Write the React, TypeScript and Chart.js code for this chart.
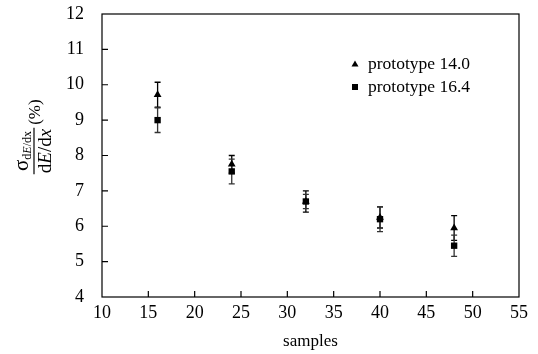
import React, { useEffect, useRef } from "react";
import { Chart, registerables } from "chart.js";

Chart.register(...registerables);

const samples = [16, 24, 32, 40, 48];
const proto140 = [9.72, 7.75, 6.7, 6.25, 5.95];
const proto140Err = [0.35, 0.25, 0.3, 0.3, 0.35];
const proto164 = [9.0, 7.55, 6.7, 6.2, 5.45];
const proto164Err = [0.35, 0.35, 0.2, 0.35, 0.3];
const seriesLabels = ["prototype 14.0", "prototype 16.4"];
const xTicks = [10, 15, 20, 25, 30, 35, 40, 45, 50, 55];
const yTicks = [4, 5, 6, 7, 8, 9, 10, 11, 12];

const SERIF = "'Liberation Serif', 'Times New Roman', serif";
const errors = [proto140Err, proto164Err];

const customPlugin = {
  id: "custom",
  beforeDatasetsDraw(chart: any) {
    const { ctx } = chart;
    const xs = chart.scales.x;
    const ys = chart.scales.y;
    ctx.save();
    chart.data.datasets.forEach((ds: any, di: number) => {
      ctx.strokeStyle = di === 0 ? "#000" : "#333";
      ctx.lineWidth = 1.3;
      ds.data.forEach((p: any, i: number) => {
        const e = errors[di][i];
        const px = xs.getPixelForValue(p.x);
        const top = ys.getPixelForValue(p.y + e);
        const bot = ys.getPixelForValue(p.y - e);
        ctx.beginPath();
        ctx.moveTo(px, top);
        ctx.lineTo(px, bot);
        ctx.moveTo(px - 3, top);
        ctx.lineTo(px + 3, top);
        ctx.moveTo(px - 3, bot);
        ctx.lineTo(px + 3, bot);
        ctx.stroke();
      });
    });
    ctx.restore();
  },
  afterDraw(chart: any) {
    const { ctx, chartArea: a } = chart;
    const xs = chart.scales.x;
    const ys = chart.scales.y;
    ctx.save();
    // frame
    ctx.strokeStyle = "#000";
    ctx.lineWidth = 1.2;
    ctx.strokeRect(a.left, a.top, a.right - a.left, a.bottom - a.top);
    // inward ticks
    ctx.beginPath();
    xTicks.forEach((v) => {
      if (v === xs.min || v === xs.max) return;
      const px = xs.getPixelForValue(v);
      ctx.moveTo(px, a.bottom);
      ctx.lineTo(px, a.bottom - 6);
    });
    yTicks.forEach((v) => {
      if (v === ys.min || v === ys.max) return;
      const py = ys.getPixelForValue(v);
      ctx.moveTo(a.left, py);
      ctx.lineTo(a.left + 6, py);
    });
    ctx.stroke();

    // x title
    ctx.fillStyle = "#000";
    ctx.font = `17px ${SERIF}`;
    ctx.textAlign = "center";
    ctx.textBaseline = "alphabetic";
    ctx.fillText("samples", (a.left + a.right) / 2, 346);

    // legend
    const legendX = 355;
    const legendY = [64, 87];
    chart.data.datasets.forEach((ds: any, di: number) => {
      const y = legendY[di];
      ctx.fillStyle = "#000";
      ctx.beginPath();
      if (di === 0) {
        ctx.moveTo(legendX, y - 3.5);
        ctx.lineTo(legendX + 3.5, y + 2.5);
        ctx.lineTo(legendX - 3.5, y + 2.5);
        ctx.closePath();
        ctx.fill();
      } else {
        ctx.fillRect(legendX - 3, y - 3, 6, 6);
      }
      ctx.font = `17.5px ${SERIF}`;
      ctx.textAlign = "left";
      ctx.textBaseline = "middle";
      ctx.fillText(seriesLabels[di], legendX + 13, y);
    });

    // y title: fraction rotated
    ctx.translate(34, 151);
    ctx.rotate(-Math.PI / 2);
    ctx.fillStyle = "#000";
    ctx.textBaseline = "alphabetic";
    ctx.textAlign = "left";
    const big = `21px ${SERIF}`;
    const sub = `12px ${SERIF}`;
    const subI = `italic 12px ${SERIF}`;
    const den = `19px ${SERIF}`;
    const denI = `italic 19px ${SERIF}`;
    const numParts: [string, string, number][] = [
      ["σ", big, 0],
      ["d", sub, 3],
      ["E", subI, 3],
      ["/dx", sub, 3],
    ];
    const denParts: [string, string, number][] = [
      ["d", den, 0],
      ["E", denI, 0],
      ["/d", den, 0],
      ["x", denI, 0],
    ];
    const width = (parts: [string, string, number][]) =>
      parts.reduce((s, p) => {
        ctx.font = p[1];
        return s + ctx.measureText(p[0]).width;
      }, 0);
    const drawParts = (parts: [string, string, number][], baseline: number) => {
      let x = -width(parts) / 2;
      parts.forEach((p) => {
        ctx.font = p[1];
        ctx.fillText(p[0], x, baseline + p[2]);
        x += ctx.measureText(p[0]).width;
      });
    };
    drawParts(numParts, -6);
    drawParts(denParts, 17);
    const lw = Math.max(width(numParts), width(denParts)) + 2;
    ctx.lineWidth = 1.2;
    ctx.beginPath();
    ctx.moveTo(-lw / 2, 0);
    ctx.lineTo(lw / 2, 0);
    ctx.stroke();
    ctx.font = `17px ${SERIF}`;
    ctx.fillText("(%)", lw / 2 + 3, 6);
    ctx.restore();
  },
};

export default function App() {
  const ref = useRef<HTMLCanvasElement | null>(null);
  useEffect(() => {
    document.body.style.margin = "0";
    if (!ref.current) return;
    const chart = new Chart(ref.current, {
      type: "scatter",
      data: {
        datasets: [
          {
            label: seriesLabels[0],
            data: samples.map((x, i) => ({ x, y: proto140[i] })),
            pointStyle: "triangle",
            pointRadius: 4.5,
            backgroundColor: "#000",
            borderColor: "#000",
            borderWidth: 0,
          },
          {
            label: seriesLabels[1],
            data: samples.map((x, i) => ({ x, y: proto164[i] })),
            pointStyle: "rect",
            pointRadius: 4.5,
            backgroundColor: "#000",
            borderColor: "#000",
            borderWidth: 0,
          },
        ],
      },
      options: {
        animation: false,
        responsive: false,
        maintainAspectRatio: false,
        layout: { padding: { left: 0, right: 19, top: 14, bottom: 0 } },
        plugins: {
          legend: { display: false },
          tooltip: { enabled: false },
        },
        scales: {
          x: {
            type: "linear",
            min: 10,
            max: 55,
            afterFit: (s: any) => {
              s.height = 57;
              s.paddingLeft = 0;
              s.paddingRight = 0;
            },
            afterBuildTicks: (s: any) => {
              s.ticks = xTicks.map((v) => ({ value: v }));
            },
            grid: { display: false, drawTicks: false },
            border: { display: false },
            ticks: {
              color: "#000",
              font: { family: SERIF, size: 18 },
              padding: 5,
              maxRotation: 0,
              autoSkip: false,
            },
          },
          y: {
            type: "linear",
            min: 4,
            max: 12,
            afterFit: (s: any) => {
              s.width = 102;
              s.paddingTop = 0;
              s.paddingBottom = 0;
            },
            afterBuildTicks: (s: any) => {
              s.ticks = yTicks.map((v) => ({ value: v }));
            },
            grid: { display: false, drawTicks: false },
            border: { display: false },
            ticks: {
              color: "#000",
              font: { family: SERIF, size: 18 },
              padding: 18,
              autoSkip: false,
            },
          },
        },
      },
      plugins: [customPlugin],
    });
    return () => chart.destroy();
  }, []);
  return <canvas ref={ref} width={538} height={354} style={{ display: "block" }} />;
}
